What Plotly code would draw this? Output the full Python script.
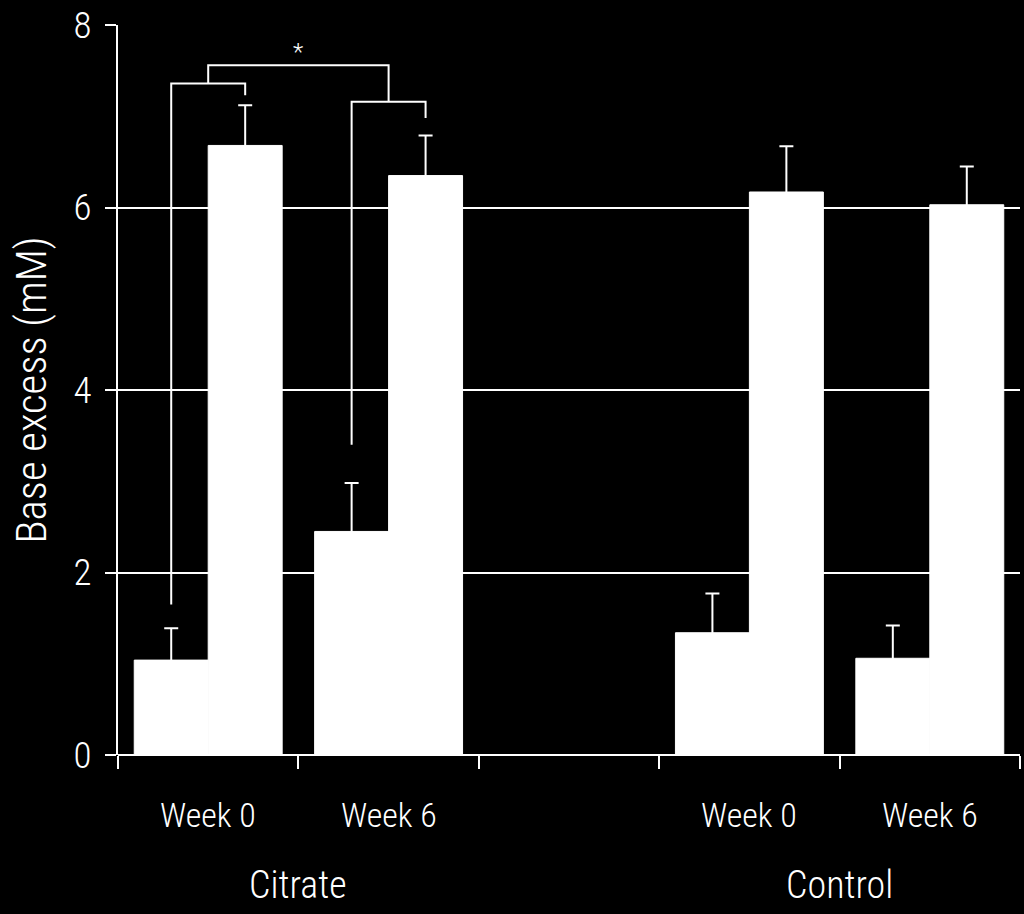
import plotly.graph_objects as go

# Data
groups = ["Citrate Week 0", "Citrate Week 6", "Control Week 0", "Control Week 6"]
slot_pos = [0, 1, 3, 4]
week_labels = ["Week 0", "Week 6", "Week 0", "Week 6"]
treatment_labels = ["Citrate", "Control"]
treatment_pos = [0.5, 3.5]
pre_values = [1.04, 2.45, 1.34, 1.06]
pre_err = [0.35, 0.53, 0.43, 0.36]
post_values = [6.68, 6.35, 6.17, 6.03]
post_err = [0.44, 0.44, 0.50, 0.42]
y_ticks = [0, 2, 4, 6, 8]

# significance brackets (x in slot units, y in mM)
bracket1_x = [-0.205, -0.205, 0.205, 0.205]
bracket1_y = [1.65, 7.36, 7.36, 7.23]
bracket2_x = [0.795, 0.795, 1.205, 1.205]
bracket2_y = [3.40, 7.16, 7.16, 6.98]
bracket3_x = [0, 0, 1, 1]
bracket3_y = [7.36, 7.56, 7.56, 7.16]
star_x, star_y = 0.5, 7.70

FONT = "Liberation Sans Narrow, Arial Narrow, Roboto Condensed, Roboto, sans-serif"
CAP_HIDE = 0.04  # hides the lower error cap inside the bar

fig = go.Figure()
for vals, errs in [(pre_values, pre_err), (post_values, post_err)]:
    fig.add_trace(go.Bar(
        x=slot_pos, y=vals,
        marker=dict(color="white", line=dict(width=1, color="white")),
        error_y=dict(type="data", array=errs, arrayminus=[CAP_HIDE]*len(errs), symmetric=False,
                     color="white", thickness=2, width=7),
        showlegend=False,
    ))

for bx, by in [(bracket1_x, bracket1_y), (bracket2_x, bracket2_y), (bracket3_x, bracket3_y)]:
    fig.add_trace(go.Scatter(x=bx, y=by, mode="lines", line=dict(color="white", width=2),
                             showlegend=False, hoverinfo="skip", cliponaxis=False))

fig.add_annotation(x=star_x, y=star_y, text="*", showarrow=False,
                   font=dict(size=24, color="white", family=FONT, weight=300))

for p, t in zip(slot_pos, week_labels):
    fig.add_annotation(x=p, y=0, yref="y", text=t, showarrow=False, yshift=-60,
                       font=dict(size=34, color="white", family=FONT, weight=300))
for p, t in zip(treatment_pos, treatment_labels):
    fig.add_annotation(x=p, y=0, yref="y", text=t, showarrow=False, yshift=-130,
                       font=dict(size=38, color="white", family=FONT, weight=300))

fig.update_layout(
    width=1024, height=914,
    paper_bgcolor="black", plot_bgcolor="black",
    margin=dict(l=118, r=4, t=25, b=159),
    barmode="group", bargap=0.18, bargroupgap=0,
    font=dict(family=FONT, color="white", size=30, weight=300),
)
fig.update_xaxes(
    range=[-0.5, 4.5], tickmode="array",
    tickvals=[-0.5, 0.5, 1.5, 2.5, 3.5, 4.5], ticktext=[""]*6,
    ticks="outside", ticklen=13, tickwidth=2, tickcolor="white",
    showgrid=False, zeroline=False, showline=False,
)
fig.update_yaxes(
    range=[0, 8], tickvals=y_ticks, ticks="outside", ticklen=11, tickwidth=2,
    tickcolor="white", showgrid=True, gridcolor="white", gridwidth=2,
    showline=True, linecolor="white", linewidth=2, zeroline=True, zerolinecolor="white",
    zerolinewidth=2, ticklabelstandoff=6,
    title=dict(text="Base excess (mM)", font=dict(size=43, color="white", family=FONT, weight=300),
               standoff=14),
    tickfont=dict(size=37, color="white", family=FONT, weight=300),
)
fig.write_html("out.html", config={"displayModeBar": False},
               post_script="document.body.style.margin='0';document.body.style.background='black';")
